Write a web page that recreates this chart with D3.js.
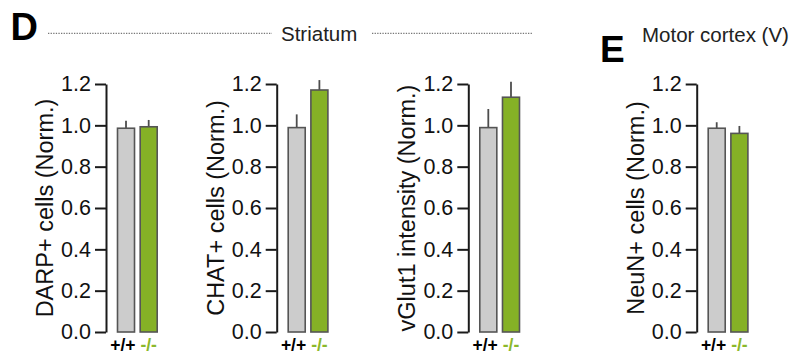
<!DOCTYPE html>
<html>
<head>
<meta charset="utf-8">
<script src="https://cdn.jsdelivr.net/npm/d3@7/dist/d3.min.js"></script>
<style>
  html, body { margin: 0; padding: 0; background: #fff; }
  svg { display: block; font-family: "Liberation Sans", Arial, Helvetica, sans-serif; }
</style>
</head>
<body>
<svg id="chart" width="795" height="356"></svg>
<script>
// ---- data ----
const genotypes = ["+/+", "-/-"];
const panelTitles = ["DARP+ cells (Norm.)", "CHAT+ cells (Norm.)", "vGlut1 intensity (Norm.)", "NeuN+ cells (Norm.)"];
const wildTypeMeans = [0.986, 0.989, 0.989, 0.986];
const knockoutMeans = [0.993, 1.171, 1.136, 0.961];
const wildTypeErr = [0.036, 0.064, 0.090, 0.029];
const knockoutErr = [0.033, 0.048, 0.075, 0.036];
const yTicks = [0.0, 0.2, 0.4, 0.6, 0.8, 1.0, 1.2];
const sectionLabels = ["D", "E"];
const sectionTitles = ["Striatum", "Motor cortex (V)"];

// ---- layout ----
const svg = d3.select("#chart");
const axisX = [106, 276.7, 468.3, 696.7];
const y = d3.scaleLinear().domain([0, 1.2]).range([332, 84]);
const fills = ["#cccccc", "#85b126"];
const labelColors = ["#000000", "#8bb82b"];

// section headers
svg.append("text").attr("x", 10.5).attr("y", 40).attr("font-size", 38).attr("font-weight", "bold")
  .text(sectionLabels[0]);
svg.append("text").attr("x", 600).attr("y", 61.5).attr("font-size", 37).attr("font-weight", "bold")
  .text(sectionLabels[1]);
svg.append("text").attr("x", 281).attr("y", 40.7).attr("font-size", 20.5).attr("fill", "#222")
  .text(sectionTitles[0]);
svg.append("text").attr("x", 642).attr("y", 41.5).attr("font-size", 20.5).attr("fill", "#222")
  .text(sectionTitles[1]);
[[48, 272], [372, 533]].forEach(([a, b]) => {
  svg.append("line").attr("x1", a).attr("x2", b).attr("y1", 33.3).attr("y2", 33.3)
    .attr("stroke", "#777").attr("stroke-width", 1.3).attr("stroke-dasharray", "1.3,1.3");
});

panelTitles.forEach((title, i) => {
  const ax = axisX[i];
  const g = svg.append("g");
  const x = d3.scaleBand().domain(genotypes).range([ax + 11.5, ax + 51.2]).paddingInner(0.25).paddingOuter(0);

  const axis = d3.axisLeft(y).tickValues(yTicks).tickSize(11).tickSizeOuter(0).tickPadding(4)
    .tickFormat(d3.format(".1f"));
  const ag = g.append("g").attr("transform", `translate(${ax},0)`).call(axis);
  ag.select(".domain").attr("stroke", "#1a1a1a").attr("stroke-width", 2);
  ag.selectAll(".tick line").attr("stroke", "#1a1a1a").attr("stroke-width", 2);
  ag.selectAll(".tick text").attr("font-size", 21.5).attr("fill", "#111")
    .attr("font-family", "Liberation Sans, Arial, sans-serif");

  // y title
  g.append("text")
    .attr("transform", `translate(${ax - 53},208) rotate(-90)`)
    .attr("text-anchor", "middle")
    .attr("font-size", 23.5).attr("fill", "#111")
    .text(title);

  const means = [wildTypeMeans[i], knockoutMeans[i]];
  const errs = [wildTypeErr[i], knockoutErr[i]];
  genotypes.forEach((gt, j) => {
    const cx = x(gt) + x.bandwidth() / 2;
    g.append("line").attr("x1", cx).attr("x2", cx)
      .attr("y1", y(means[j])).attr("y2", y(means[j] + errs[j]))
      .attr("stroke", "#4d4d4d").attr("stroke-width", 1.8);
    g.append("rect").attr("x", x(gt)).attr("width", x.bandwidth())
      .attr("y", y(means[j])).attr("height", y(0) - y(means[j]))
      .attr("fill", fills[j]).attr("stroke", "#555").attr("stroke-width", 1.6);
    g.append("text")
      .attr("x", j === 0 ? x(gt) + x.bandwidth() + 1 : cx)
      .attr("y", 351)
      .attr("text-anchor", j === 0 ? "end" : "middle")
      .attr("font-size", 17.5).attr("font-weight", "bold")
      .attr("fill", labelColors[j])
      .text(gt);
  });
});
</script>
</body>
</html>
